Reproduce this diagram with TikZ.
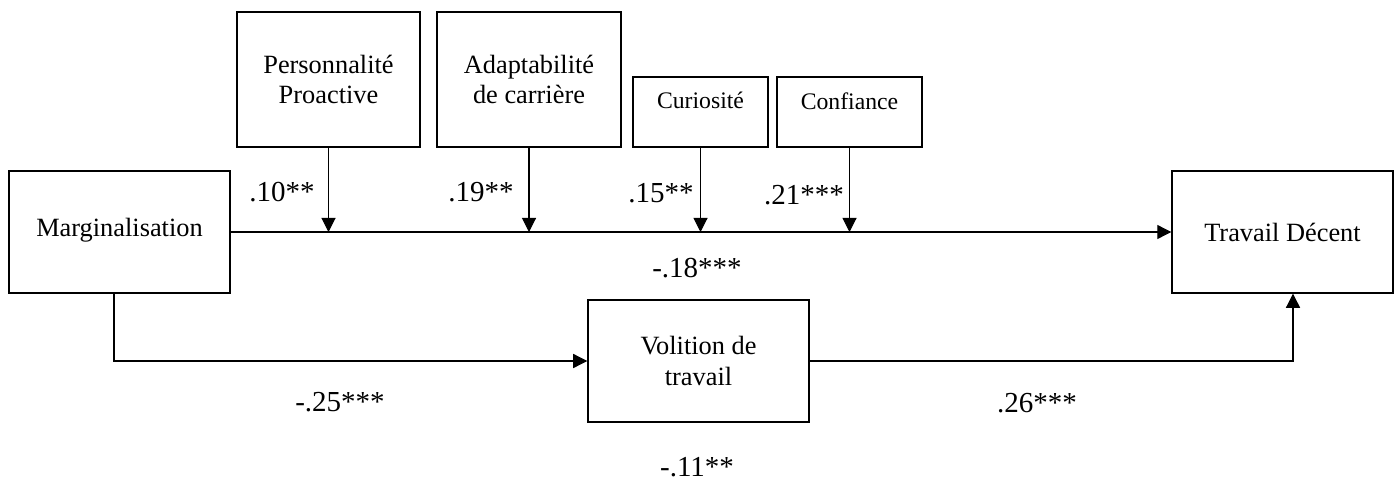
\documentclass[tikz,border=0pt]{standalone}
\usepackage{fontspec}
\setmainfont{Liberation Serif}
\usetikzlibrary{arrows.meta,positioning}

\begin{document}
\begin{tikzpicture}[
    varbox/.style={draw, line width=0.8pt, minimum width=4.42cm, minimum height=2.44cm,
                   align=center, font=\fontsize{15}{17.5}\selectfont},
    modbox/.style={draw, line width=0.8pt, minimum width=3.66cm, minimum height=2.7cm,
                   align=center, font=\fontsize{15}{17.5}\selectfont},
    dimbox/.style={draw, line width=0.8pt, minimum height=1.4cm, text depth=0.45cm,
                   font=\fontsize{13.5}{16}\selectfont},
    coef/.style={font=\fontsize{16.5}{20}\selectfont},
    path/.style={line width=0.6pt, -{Triangle[length=8pt, width=8pt]}}]
\useasboundingbox (0,0) rectangle (28,9.66);
% Main variables
\node[varbox, text depth=0.2cm] (marg) at (2.39,5.02) {Marginalisation};
\node[varbox] (trav) at (25.65,5.02) {Travail Décent};
\node[varbox] (vol) at (13.97,2.44) {Volition de\\travail};
% Moderators
\node[modbox] (perso) at (6.57,8.07) {Personnalité\\Proactive};
\node[modbox, minimum width=3.68cm] (adapt) at (10.58,8.07) {Adaptabilité\\de carrière};
\node[dimbox, minimum width=2.7cm] (curio) at (14.01,7.42) {Curiosité};
\node[dimbox, minimum width=2.9cm] (confi) at (16.99,7.42) {Confiance};
% Direct path
\draw[path] (marg.east) -- (trav.west);
\foreach \m in {perso,adapt,curio,confi}
  \draw[path] (\m.south) -- (\m.south |- marg.east);
% Mediation path
\coordinate (mdown) at ([xshift=-0.11cm]marg.south);
\coordinate (tup) at ([xshift=0.21cm]trav.south);
\draw[path] (mdown) |- (vol.west);
\draw[path] (vol.east) -| (tup);
% Coefficients
\node[coef] (c1) at (5.64,5.82) {.10**};
\node[coef] (c2) at (9.62,5.82) {.19**};
\node[coef] (c3) at (13.22,5.80) {.15**};
\node[coef] (c4) at (16.08,5.76) {.21***};
\node[coef] (c5) at (13.94,4.30) {-.18***};
\node[coef] (c6) at (6.80,1.62) {-.25***};
\node[coef] (c7) at (20.74,1.60) {.26***};
\node[coef] (c8) at (13.94,0.32) {-.11**};
\end{tikzpicture}
\end{document}
